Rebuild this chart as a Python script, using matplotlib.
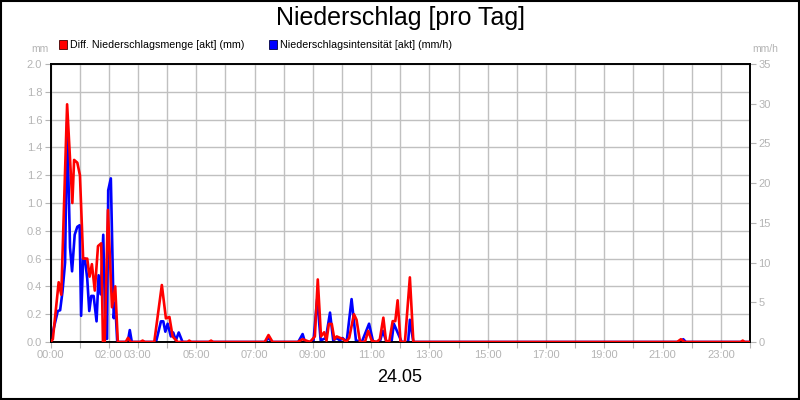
import matplotlib
matplotlib.use("Agg")
import matplotlib.pyplot as plt
from matplotlib.patches import Rectangle

plt.rcParams['font.family'] = ['Liberation Sans', 'DejaVu Sans']

# Diff. Niederschlagsmenge (mm), time in hours
red_h = [0.0, 0.08, 0.28, 0.37, 0.57, 0.75, 0.81, 0.92, 1.01, 1.12, 1.26, 1.34, 1.42, 1.52, 1.63, 1.74,
         1.80, 1.86, 1.97, 2.11, 2.22, 2.31, 2.58, 2.66, 2.75, 3.08, 3.16, 3.24, 3.56, 3.82, 3.96, 4.08,
         4.19, 4.36, 4.70, 4.76, 4.83, 5.43, 5.51, 5.58, 7.35, 7.48, 7.62, 8.48, 8.56, 8.65, 8.90, 9.07,
         9.17, 9.28, 9.39, 9.47, 9.55, 9.65, 9.74, 9.82, 9.93, 10.05, 10.14, 10.25, 10.41, 10.50, 10.62,
         10.79, 10.90, 11.02, 11.19, 11.30, 11.42, 11.51, 11.62, 11.74, 11.83, 11.91, 12.01, 12.16, 12.33,
         12.45, 21.50, 21.63, 21.75, 23.68, 23.75, 23.82, 24.0]
red_mm = [0.0, 0.02, 0.43, 0.34, 1.71, 1.0, 1.31, 1.29, 1.20, 0.60, 0.60, 0.47, 0.56, 0.37, 0.69, 0.71,
          0.0, 0.0, 0.95, 0.25, 0.40, 0.0, 0.0, 0.03, 0.0, 0.0, 0.01, 0.0, 0.0, 0.41, 0.17, 0.18,
          0.04, 0.0, 0.0, 0.01, 0.0, 0.0, 0.01, 0.0, 0.0, 0.05, 0.0, 0.0, 0.01, 0.02, 0.0, 0.04,
          0.45, 0.04, 0.07, 0.01, 0.13, 0.13, 0.02, 0.04, 0.03, 0.02, 0.0, 0.03, 0.20, 0.16, 0.0,
          0.0, 0.08, 0.01, 0.0, 0.02, 0.175, 0.01, 0.0, 0.15, 0.15, 0.30, 0.0, 0.0, 0.465,
          0.0, 0.0, 0.02, 0.0, 0.0, 0.01, 0.0, 0.0]

# Niederschlagsintensitaet (mm/h)
blue_h = [0.0, 0.25, 0.33, 0.41, 0.50, 0.57, 0.67, 0.74, 0.83, 0.92, 1.00, 1.05, 1.12, 1.18, 1.26, 1.33,
          1.40, 1.48, 1.58, 1.65, 1.72, 1.81, 1.89, 1.94, 1.98, 2.07, 2.17, 2.22, 2.29, 2.65, 2.72, 2.79,
          3.62, 3.79, 3.87, 3.94, 4.02, 4.13, 4.21, 4.30, 4.40, 4.53, 7.35, 7.48, 7.60,
          8.50, 8.65, 8.73, 9.02, 9.15, 9.27, 9.45, 9.59, 9.70, 9.82, 9.93, 10.02, 10.16, 10.33, 10.48,
          10.68, 10.93, 11.07, 11.30, 11.40, 11.53, 11.70, 11.78, 12.05, 12.27, 12.33, 12.45,
          21.60, 21.71, 21.80, 24.0]
blue_mmh = [0.0, 3.9, 4.0, 6.3, 10.0, 27.7, 11.9, 8.9, 13.5, 14.5, 14.7, 3.3, 10.5, 10.5, 8.0, 3.9,
            5.8, 5.8, 2.6, 8.4, 6.0, 13.5, 0.4, 0.4, 19.1, 20.6, 3.0, 4.9, 0.0, 0.0, 1.5, 0.0,
            0.0, 2.6, 2.6, 1.3, 2.3, 0.7, 1.2, 0.2, 1.2, 0.0, 0.0, 0.5, 0.0,
            0.0, 1.0, 0.0, 0.0, 5.4, 0.2, 0.5, 3.7, 0.2, 0.5, 0.2, 0.5, 0.0, 5.4, 0.2,
            0.0, 2.3, 0.0, 0.0, 1.4, 0.0, 0.0, 2.3, 0.0, 0.0, 2.8, 0.0,
            0.0, 0.35, 0.0, 0.0]

hour_labels = {0: "00:00", 2: "02:00", 3: "03:00", 5: "05:00", 7: "07:00", 9: "09:00", 11: "11:00",
               13: "13:00", 15: "15:00", 17: "17:00", 19: "19:00", 21: "21:00", 23: "23:00"}
left_ticks = [0.0, 0.2, 0.4, 0.6, 0.8, 1.0, 1.2, 1.4, 1.6, 1.8, 2.0]
right_ticks = [0, 5, 10, 15, 20, 25, 30, 35]

tick_grey = '#b4b4b4'

fig = plt.figure(figsize=(8, 4), dpi=100)
fig.patch.set_facecolor('white')
ax = fig.add_axes([50.5 / 800, 58 / 400, 699.5 / 800, 278 / 400])
ax2 = ax.twinx()

ax.set_xlim(0, 24)
ax.set_ylim(0, 2.0)
ax2.set_ylim(0, 35)

ax.set_xticks(range(25))
ax.set_xticklabels([hour_labels.get(h, "") for h in range(25)])
ax.set_yticks(left_ticks)
ax.set_yticklabels([f"{v:.1f}" for v in left_ticks])
ax2.set_yticks(right_ticks)
ax2.set_yticklabels([str(v) for v in right_ticks])

ax.grid(True, color='#c0c0c0', linewidth=1.0)
ax.set_axisbelow(True)

for a in (ax, ax2):
    a.tick_params(axis='both', colors=tick_grey, labelcolor=tick_grey, labelsize=8,
                  length=4.5, width=0.8, pad=1.5)
    for sp in a.spines.values():
        sp.set_color('black')
        sp.set_linewidth(1.2)

# blue first (right axis), red on top using the left axis scale
ax2.plot(blue_h, blue_mmh, color='#0000ff', linewidth=1.9, zorder=2)
ax2.plot(red_h, red_mm, color='#ff0000', linewidth=1.9, zorder=3, transform=ax.transData)
ax2.set_ylim(0, 35)

fig.text(0.5, 1 - 18 / 400, "Niederschlag [pro Tag]", ha='center', va='center', fontsize=18, color='black')
fig.text(0.5, 1 - 377 / 400, "24.05", ha='center', va='center', fontsize=13, color='black')
fig.text(40 / 800, 1 - 49 / 400, "mm", ha='center', va='center', fontsize=7.5, color=tick_grey)
fig.text(765 / 800, 1 - 49 / 400, "mm/h", ha='center', va='center', fontsize=7.5, color=tick_grey)

fig.patches.append(Rectangle((59 / 800, 1 - 48.5 / 400), 8 / 800, 8 / 400, transform=fig.transFigure,
                             facecolor='#ff0000', edgecolor='#400000', linewidth=0.6))
fig.text(70 / 800, 1 - 44.5 / 400, "Diff. Niederschlagsmenge [akt] (mm)", ha='left', va='center',
         fontsize=7.7, color='black')
fig.patches.append(Rectangle((269 / 800, 1 - 48.5 / 400), 8 / 800, 8 / 400, transform=fig.transFigure,
                             facecolor='#0000ff', edgecolor='#000040', linewidth=0.6))
fig.text(280 / 800, 1 - 44.5 / 400, "Niederschlagsintensität [akt] (mm/h)", ha='left', va='center',
         fontsize=7.7, color='black')

# outer frame
fig.patches.append(Rectangle((0.001, 0.002), 0.998, 0.996, transform=fig.transFigure,
                             facecolor='none', edgecolor='black', linewidth=1.5))

fig.savefig("out.png", dpi=100)
